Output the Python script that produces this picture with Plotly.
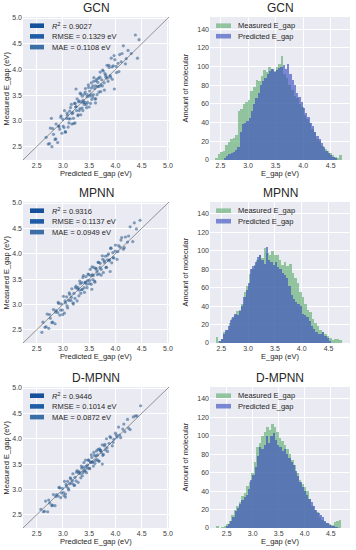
import plotly.graph_objects as go

# ---------------- data ----------------
models = ["GCN", "MPNN", "D-MPNN"]
r2 = ["0.9027", "0.9316", "0.9446"]
rmse = ["0.1329", "0.1137", "0.1014"]
mae = ["0.1108", "0.0949", "0.0872"]

# scatter: predicted (x) vs measured (y)
gcn_pred = [2.68, 2.72, 2.76, 2.79, 2.82, 2.85, 2.87, 2.90, 2.92, 2.94, 2.96, 2.98, 3.00, 3.02, 3.03, 3.05, 3.07, 3.08, 3.10, 3.11,
            3.13, 3.14, 3.16, 3.17, 3.19, 3.20, 3.22, 3.23, 3.24, 3.26, 3.27, 3.29, 3.30, 3.31, 3.33, 3.34, 3.35, 3.37, 3.38, 3.39,
            3.41, 3.42, 3.43, 3.45, 3.46, 3.47, 3.49, 3.50, 3.51, 3.53, 3.54, 3.55, 3.57, 3.58, 3.59, 3.61, 3.62, 3.63, 3.65, 3.66,
            3.68, 3.69, 3.71, 3.72, 3.74, 3.75, 3.77, 3.79, 3.80, 3.82, 3.84, 3.86, 3.88, 3.90, 3.92, 3.94, 3.96, 3.99, 4.02, 4.05,
            4.08, 4.11, 4.15, 4.19, 4.24, 4.30, 4.38,
            2.745, 2.805, 2.865, 2.925, 2.965, 3.005, 3.045, 3.085, 3.115, 3.145, 3.175, 3.205, 3.235, 3.255, 3.285, 3.305, 3.325,
            3.345, 3.365, 3.385, 3.405, 3.425, 3.445, 3.465, 3.485, 3.505, 3.525, 3.545, 3.565, 3.585, 3.605, 3.625, 3.645, 3.665,
            3.685, 3.705, 3.725, 3.755, 3.785, 3.815, 3.845, 3.875, 3.905, 3.935, 3.975, 4.015, 4.065, 4.125, 4.205,
            3.62, 3.98, 4.42, 3.25, 2.78, 4.45]
gcn_meas = [2.68, 2.55, 2.86, 2.50, 2.74, 2.64, 2.94, 2.58, 2.90, 2.84, 3.07, 2.76, 3.03, 2.87, 3.20, 2.78, 3.05, 3.15, 2.88, 3.04,
            3.19, 3.04, 3.32, 2.94, 3.16, 3.05, 3.34, 2.96, 3.27, 3.20, 3.43, 3.12, 3.37, 3.20, 3.54, 3.12, 3.37, 3.48, 3.20, 3.36,
            3.52, 3.36, 3.63, 3.26, 3.47, 3.36, 3.65, 3.27, 3.58, 3.51, 3.74, 3.42, 3.68, 3.51, 3.84, 3.43, 3.68, 3.78, 3.51, 3.67,
            3.83, 3.67, 3.95, 3.57, 3.80, 3.68, 3.97, 3.60, 3.92, 3.85, 4.08, 3.77, 4.04, 3.88, 4.22, 3.81, 4.07, 4.19, 3.94, 4.12,
            4.29, 4.15, 4.46, 4.11, 4.37, 4.31, 4.67,
            2.56, 2.85, 2.65, 2.89, 3.10, 2.90, 2.79, 3.11, 2.96, 3.26, 3.14, 2.95, 3.34, 3.28, 3.10, 3.39, 3.24,
            3.52, 3.25, 3.40, 3.32, 3.56, 3.32, 3.51, 3.70, 3.48, 3.34, 3.64, 3.47, 3.77, 3.63, 3.43, 3.81, 3.75,
            3.56, 3.85, 3.70, 3.99, 3.74, 3.89, 3.83, 4.08, 3.85, 4.05, 4.27, 4.06, 3.96, 4.31, 4.21,
            3.35, 3.62, 4.22, 3.62, 3.05, 4.58]

mpnn_pred = [2.62, 2.66, 2.70, 2.73, 2.76, 2.79, 2.82, 2.85, 2.87, 2.90, 2.92, 2.94, 2.97, 2.99, 3.01, 3.03, 3.05, 3.07, 3.09, 3.11,
             3.13, 3.15, 3.17, 3.19, 3.21, 3.23, 3.25, 3.27, 3.29, 3.31, 3.32, 3.34, 3.36, 3.37, 3.39, 3.41, 3.42, 3.44, 3.46, 3.47,
             3.49, 3.51, 3.52, 3.54, 3.56, 3.57, 3.59, 3.61, 3.63, 3.65, 3.67, 3.69, 3.71, 3.73, 3.75, 3.77, 3.79, 3.81, 3.83, 3.85,
             3.87, 3.89, 3.91, 3.93, 3.95, 3.97, 4.00, 4.03, 4.06, 4.09, 4.12, 4.15, 4.19, 4.23, 4.28, 4.33, 4.40, 4.47,
             2.68, 2.745, 2.805, 2.86, 2.91, 2.955, 2.995, 3.04, 3.08, 3.12, 3.16, 3.20, 3.24, 3.28, 3.305, 3.33, 3.355, 3.38,
             3.405, 3.43, 3.455, 3.48, 3.505, 3.53, 3.555, 3.58, 3.605, 3.63, 3.655, 3.68, 3.705, 3.73, 3.76, 3.79, 3.82, 3.85,
             3.88, 3.915, 3.955, 3.995, 4.045, 4.105, 4.17, 4.25, 4.36,
             3.55, 3.90, 2.60]
mpnn_meas = [2.65, 2.55, 2.81, 2.53, 2.73, 2.64, 2.90, 2.62, 2.88, 2.84, 3.02, 2.79, 3.01, 2.89, 3.16, 2.83, 3.03, 3.15, 2.93, 3.08,
             3.20, 3.08, 3.31, 3.03, 3.22, 3.12, 3.36, 3.07, 3.33, 3.28, 3.46, 3.22, 3.43, 3.30, 3.57, 3.24, 3.43, 3.55, 3.33, 3.47,
             3.59, 3.47, 3.69, 3.40, 3.59, 3.49, 3.73, 3.44, 3.70, 3.65, 3.83, 3.60, 3.81, 3.69, 3.96, 3.63, 3.83, 3.95, 3.73, 3.88,
             4.00, 3.88, 4.11, 3.82, 4.02, 3.92, 4.17, 3.89, 4.16, 4.13, 4.32, 4.09, 4.33, 4.23, 4.53, 4.24, 4.49, 4.66,
             2.56, 2.80, 2.65, 2.85, 3.04, 2.89, 2.80, 3.07, 2.97, 3.23, 3.14, 3.01, 3.33, 3.31, 3.17, 3.41, 3.29, 3.53,
             3.33, 3.44, 3.40, 3.60, 3.41, 3.57, 3.74, 3.57, 3.46, 3.71, 3.59, 3.83, 3.73, 3.58, 3.89, 3.86, 3.73, 3.97,
             3.86, 4.11, 3.92, 4.05, 4.04, 4.27, 4.12, 4.35, 4.61,
             3.30, 3.65, 2.45]

dmpnn_pred = [2.58, 2.63, 2.67, 2.71, 2.75, 2.79, 2.82, 2.85, 2.88, 2.91, 2.94, 2.96, 2.99, 3.01, 3.03, 3.05, 3.07, 3.09, 3.11, 3.13,
              3.15, 3.17, 3.19, 3.21, 3.23, 3.25, 3.27, 3.29, 3.31, 3.33, 3.35, 3.37, 3.39, 3.41, 3.43, 3.45, 3.47, 3.49, 3.51, 3.53,
              3.55, 3.57, 3.59, 3.61, 3.63, 3.65, 3.67, 3.69, 3.71, 3.73, 3.75, 3.77, 3.79, 3.81, 3.83, 3.85, 3.88, 3.91, 3.94, 3.97,
              4.00, 4.03, 4.06, 4.10, 4.14, 4.18, 4.23, 4.28, 4.34, 4.41, 4.48,
              2.65, 2.73, 2.80, 2.865, 2.925, 2.975, 3.02, 3.06, 3.10, 3.14, 3.18, 3.22, 3.26, 3.30, 3.34, 3.36, 3.38, 3.40, 3.42,
              3.44, 3.46, 3.48, 3.50, 3.52, 3.54, 3.56, 3.58, 3.60, 3.62, 3.64, 3.66, 3.68, 3.70, 3.72, 3.76, 3.80, 3.84, 3.895,
              3.955, 4.02, 4.08, 4.16, 4.25, 4.38,
              3.05, 3.75]
dmpnn_meas = [2.61, 2.56, 2.77, 2.56, 2.73, 2.68, 2.90, 2.68, 2.90, 2.87, 3.03, 2.84, 3.02, 2.94, 3.16, 2.91, 3.06, 3.16, 2.99, 3.11,
              3.21, 3.12, 3.31, 3.09, 3.24, 3.17, 3.37, 3.14, 3.35, 3.31, 3.46, 3.27, 3.44, 3.36, 3.58, 3.33, 3.48, 3.58, 3.41, 3.53,
              3.63, 3.54, 3.73, 3.51, 3.66, 3.59, 3.79, 3.56, 3.77, 3.73, 3.88, 3.69, 3.86, 3.78, 4.00, 3.75, 3.91, 4.02, 3.86, 3.99,
              4.11, 4.03, 4.23, 4.02, 4.19, 4.14, 4.38, 4.18, 4.43, 4.45, 4.65,
              2.57, 2.79, 2.69, 2.86, 3.04, 2.93, 2.88, 3.10, 3.02, 3.23, 3.17, 3.08, 3.34, 3.33, 3.23, 3.42, 3.33, 3.53, 3.37,
              3.46, 3.42, 3.58, 3.42, 3.55, 3.68, 3.54, 3.46, 3.67, 3.57, 3.76, 3.68, 3.56, 3.80, 3.77, 3.67, 3.89, 3.82, 4.04,
              3.93, 4.07, 4.07, 4.29, 4.21, 4.45,
              2.85, 3.50]

identity_line = [2.0, 5.5]

# histograms: first bin edge, bin width, counts
gcn_meas_start, gcn_meas_w = 2.40, 0.046
gcn_meas_counts = [2, 6, 9, 10, 16, 19, 22, 24, 27, 52, 55, 60, 62, 64, 74, 78, 86, 84, 90, 96, 94, 100, 97, 95, 99,
                   103, 111, 92, 88, 80, 75, 68, 66, 60, 57, 48, 44, 40, 33, 30, 22, 20, 15, 12, 10, 7, 5, 3, 2, 5]
gcn_pred_start, gcn_pred_w = 2.56, 0.041
gcn_pred_counts = [2, 4, 6, 7, 9, 11, 14, 30, 38, 40, 42, 45, 52, 60, 66, 72, 80, 85, 88, 92, 95, 97, 94, 96, 98,
                   99, 102, 97, 103, 92, 86, 80, 72, 67, 62, 56, 50, 46, 40, 36, 30, 26, 22, 18, 14, 10, 8, 5, 3, 2]

mpnn_meas_start, mpnn_meas_w = 2.40, 0.047
mpnn_meas_counts = [6, 2, 4, 12, 14, 22, 27, 30, 35, 36, 42, 55, 62, 75, 80, 85, 90, 95, 92, 103, 98, 95, 100, 96, 95,
                    90, 85, 88, 84, 86, 76, 70, 65, 55, 50, 42, 36, 34, 26, 22, 18, 14, 12, 10, 8, 5, 3, 4, 4, 3]
mpnn_pred_start, mpnn_pred_w = 2.45, 0.042
mpnn_pred_counts = [2, 4, 10, 14, 18, 25, 28, 32, 30, 35, 40, 50, 58, 65, 80, 84, 88, 93, 96, 90, 86, 104, 90, 88, 85,
                    88, 82, 80, 76, 74, 70, 62, 52, 48, 45, 42, 40, 32, 30, 28, 24, 18, 15, 12, 10, 10, 12, 8, 5, 2]

dmpnn_meas_start, dmpnn_meas_w = 2.30, 0.048
dmpnn_meas_counts = [2, 0, 1, 2, 4, 8, 14, 20, 24, 28, 35, 38, 46, 50, 60, 72, 88, 92, 100, 104, 110, 106, 113, 110, 104,
                     98, 94, 90, 86, 80, 74, 68, 60, 52, 48, 44, 40, 32, 24, 20, 17, 12, 9, 7, 5, 4, 3, 6, 8, 9]
dmpnn_pred_start, dmpnn_pred_w = 2.48, 0.043
dmpnn_pred_counts = [2, 4, 8, 12, 18, 22, 26, 30, 34, 36, 42, 52, 58, 66, 78, 88, 86, 90, 100, 92, 100, 103, 96, 90, 88,
                     84, 86, 80, 76, 72, 68, 62, 56, 50, 44, 40, 36, 32, 28, 24, 20, 16, 14, 12, 8, 5, 3, 2, 2, 1]

scatter_data = [(gcn_pred, gcn_meas), (mpnn_pred, mpnn_meas), (dmpnn_pred, dmpnn_meas)]
hist_data = [
    ((gcn_meas_start, gcn_meas_w, gcn_meas_counts), (gcn_pred_start, gcn_pred_w, gcn_pred_counts)),
    ((mpnn_meas_start, mpnn_meas_w, mpnn_meas_counts), (mpnn_pred_start, mpnn_pred_w, mpnn_pred_counts)),
    ((dmpnn_meas_start, dmpnn_meas_w, dmpnn_meas_counts), (dmpnn_pred_start, dmpnn_pred_w, dmpnn_pred_counts)),
]
hist_xranges = [[2.31, 4.85], [2.29, 4.90], [2.18, 4.87]]

# ---------------- styling / layout ----------------
W, H = 356, 550
FONT = "Liberation Sans, Arial, sans-serif"
BG = "#eaeaf2"
TXT = "#262626"
MEAS_COLOR = "rgba(85,168,104,0.6)"
PRED_COLOR = "rgba(60,80,190,0.65)"
PT_COLOR = "rgba(38,88,138,0.55)"
PATCH_COLORS = ["#15509b", "#1e5ca6", "#3b6fa6"]

rows_px = [(17, 160), (202, 343), (387, 528)]
sc_x = (23 / W, 169 / W)
hi_x = (210 / W, 350 / W)

fig = go.Figure()
layout = dict(
    width=W, height=H, margin=dict(l=0, r=0, t=0, b=0, autoexpand=False),
    paper_bgcolor="white", plot_bgcolor=BG, showlegend=False,
    font=dict(family=FONT, color=TXT, size=7),
    barmode="overlay", bargap=0,
)
annotations = []
shapes = []

def axis_common(**kw):
    d = dict(showgrid=True, gridcolor="white", gridwidth=1, zeroline=False,
             showline=False, ticks="", ticklen=0, automargin=False,
             tickfont=dict(size=7, color="#404040"))
    d.update(kw)
    return d

def title_ann(text, xref, yref, x, y, angle=0, xanchor="center", yanchor="middle"):
    return dict(text=text, xref=xref, yref=yref, x=x, y=y, textangle=angle,
                xanchor=xanchor, yanchor=yanchor, showarrow=False,
                font=dict(size=7.5, color=TXT, family=FONT))

for i, m in enumerate(models):
    top, bot = rows_px[i]
    ph = bot - top
    ydom = [1 - bot / H, 1 - top / H]
    sx = "x" if i == 0 else f"x{2*i+1}"
    sy = "y" if i == 0 else f"y{2*i+1}"
    hx = f"x{2*i+2}"
    hy = f"y{2*i+2}"
    sxk = "xaxis" if i == 0 else f"xaxis{2*i+1}"
    syk = "yaxis" if i == 0 else f"yaxis{2*i+1}"
    hxk = f"xaxis{2*i+2}"
    hyk = f"yaxis{2*i+2}"

    # scatter panel
    pred, meas = scatter_data[i]
    fig.add_trace(go.Scatter(x=identity_line, y=identity_line, mode="lines",
                             line=dict(color="#6a6a6a", width=0.7), xaxis=sx, yaxis=sy,
                             hoverinfo="skip"))
    fig.add_trace(go.Scatter(x=pred, y=meas, mode="markers",
                             marker=dict(size=3.2, color=PT_COLOR, line=dict(width=0)),
                             xaxis=sx, yaxis=sy))
    layout[sxk] = axis_common(domain=list(sc_x), anchor=sy, range=[2.24, 5.02],
                              tickvals=[2.5, 3.0, 3.5, 4.0, 4.5, 5.0], tickformat=".1f")
    layout[syk] = axis_common(domain=ydom, anchor=sx, range=[2.24, 5.02],
                              tickvals=[2.5, 3.0, 3.5, 4.0, 4.5, 5.0], tickformat=".1f")

    # histogram panel
    (ms, mw, mc), (ps, pw, pc) = hist_data[i]
    fig.add_trace(go.Bar(x=[ms + k * mw for k in range(len(mc))], y=mc, width=mw, offset=0,
                         marker=dict(color=MEAS_COLOR, line=dict(width=0)),
                         name="Measured E_gap", xaxis=hx, yaxis=hy))
    fig.add_trace(go.Bar(x=[ps + k * pw for k in range(len(pc))], y=pc, width=pw, offset=0,
                         marker=dict(color=PRED_COLOR, line=dict(width=0)),
                         name="Predicted E_gap", xaxis=hx, yaxis=hy))
    layout[hxk] = axis_common(domain=list(hi_x), anchor=hy, range=hist_xranges[i],
                              tickvals=[2.5, 3.0, 3.5, 4.0, 4.5], tickformat=".1f")
    layout[hyk] = axis_common(domain=ydom, anchor=hx, range=[0, 153],
                              tickvals=[0, 20, 40, 60, 80, 100, 120, 140])

    # axis titles (placed in paper coordinates just outside each plot)
    ytitle_paper = 1 - (bot + 13.5) / H
    ymid_paper = 1 - (top + bot) / 2 / H
    annotations.append(title_ann("Predicted E_gap (eV)", "paper", "paper", sum(sc_x) / 2, ytitle_paper))
    annotations.append(title_ann("Measured E_gap (eV)", "paper", "paper", 6 / W, ymid_paper, angle=-90))
    annotations.append(title_ann("E_gap (eV)", "paper", "paper", sum(hi_x) / 2, ytitle_paper))
    annotations.append(title_ann("Amount of molecular", "paper", "paper", 185 / W, ymid_paper, angle=-90))

    # titles
    for ax in (sx, hx):
        yax = "y" if ax == "x" else "y" + ax[1:]
        annotations.append(dict(text=m, xref=f"{ax} domain", yref=f"{yax} domain",
                                x=0.5, y=1, yanchor="bottom", yshift=0, showarrow=False,
                                font=dict(size=12, color=TXT, family=FONT)))

    # scatter legend
    labels = [f"<i>R</i><sup>2</sup> = {r2[i]}", f"RMSE = {rmse[i]} eV", f"MAE = {mae[i]} eV"]
    for k, lab in enumerate(labels):
        yc = 1 - (8.7 + k * 10.7) / ph
        hh = 2.3 / ph
        shapes.append(dict(type="rect", xref=f"{sx} domain", yref=f"{sy} domain",
                           x0=0.048, x1=0.144, y0=yc - hh, y1=yc + hh,
                           fillcolor=PATCH_COLORS[k], line=dict(width=0)))
        annotations.append(dict(text=lab, xref=f"{sx} domain", yref=f"{sy} domain",
                                x=0.185, y=yc, xanchor="left", yanchor="middle", showarrow=False,
                                font=dict(size=7.5, color=TXT, family=FONT)))
    # histogram legend
    for k, (lab, col) in enumerate([("Measured E_gap", MEAS_COLOR), ("Predicted E_gap", PRED_COLOR)]):
        yc = 1 - (8.7 + k * 10.5) / ph
        hh = 2.3 / ph
        shapes.append(dict(type="rect", xref=f"{hx} domain", yref=f"{hy} domain",
                           x0=0.043, x1=0.15, y0=yc - hh, y1=yc + hh,
                           fillcolor=col, line=dict(width=0)))
        annotations.append(dict(text=lab, xref=f"{hx} domain", yref=f"{hy} domain",
                                x=0.186, y=yc, xanchor="left", yanchor="middle", showarrow=False,
                                font=dict(size=7.5, color=TXT, family=FONT)))

layout["annotations"] = annotations
layout["shapes"] = shapes
fig.update_layout(**layout)
fig.write_html("out.html", config={"displayModeBar": False},
               post_script="document.body.style.margin='0';document.body.style.padding='0';")
